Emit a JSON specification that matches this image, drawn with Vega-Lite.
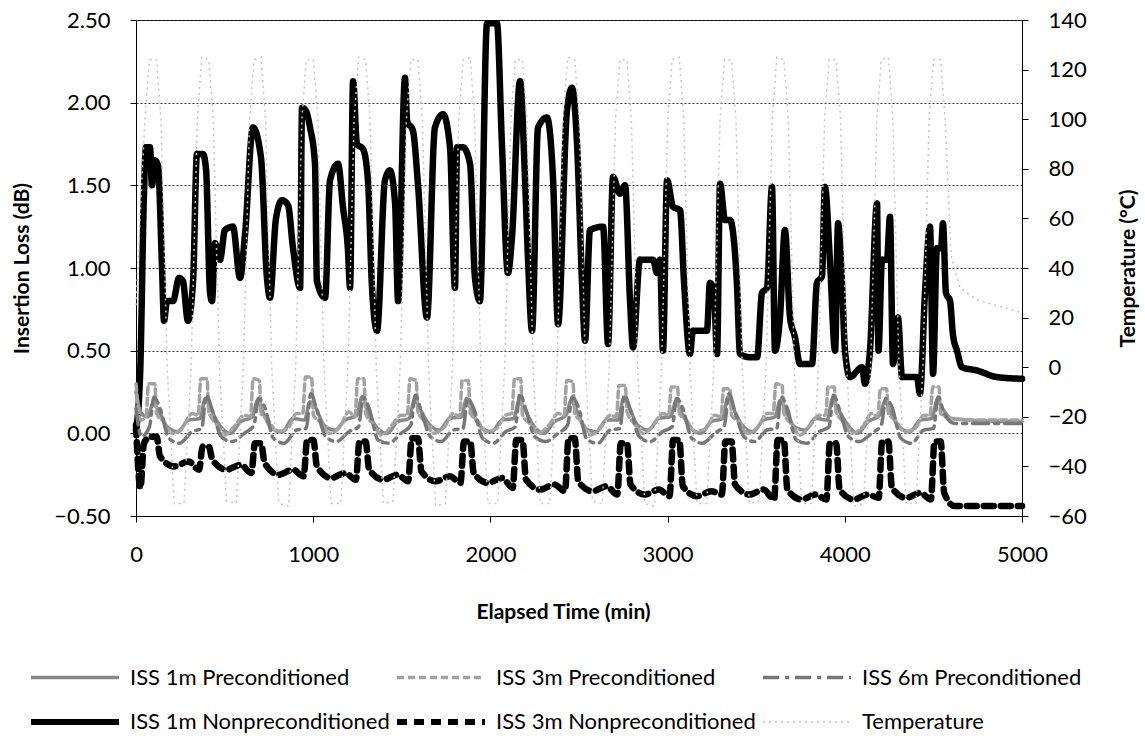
{
"$schema":"https://vega.github.io/schema/vega-lite/v6.json",
"width":886,"height":496,
"autosize":"none",
"padding":{"left":136,"top":20,"right":123,"bottom":228},
"background":"white",
"config":{"font":"Lato","view":{"stroke":"black","strokeWidth":1},
 "axis":{"domainColor":"black","tickColor":"black","labelColor":"black","titleColor":"black","labelFont":"Lato","titleFont":"Lato","labelFontSize":22,"titleFontSize":21,"titleFontWeight":"bold","tickSize":6,"labelOverlap":false,"labelFlush":false}},
"datasets":{"d":[
{"s":"N1","t":0,"v":0.02},{"s":"N1","t":23,"v":0.35},{"s":"N1","t":45,"v":1.45},{"s":"N1","t":56,"v":1.73},{"s":"N1","t":79,"v":1.73},{"s":"N1","t":90,"v":1.5},{"s":"N1","t":107,"v":1.65},{"s":"N1","t":124,"v":1.62},{"s":"N1","t":147,"v":1.0},{"s":"N1","t":158,"v":0.68},{"s":"N1","t":175,"v":0.8},{"s":"N1","t":209,"v":0.8},{"s":"N1","t":243,"v":0.94},{"s":"N1","t":265,"v":0.92},{"s":"N1","t":293,"v":0.68},{"s":"N1","t":322,"v":0.92},{"s":"N1","t":344,"v":1.69},{"s":"N1","t":378,"v":1.69},{"s":"N1","t":395,"v":1.6},{"s":"N1","t":418,"v":0.85},{"s":"N1","t":429,"v":0.8},{"s":"N1","t":446,"v":1.15},{"s":"N1","t":474,"v":1.05},{"s":"N1","t":502,"v":1.23},{"s":"N1","t":547,"v":1.25},{"s":"N1","t":587,"v":0.94},{"s":"N1","t":615,"v":1.2},{"s":"N1","t":660,"v":1.85},{"s":"N1","t":705,"v":1.67},{"s":"N1","t":739,"v":0.94},{"s":"N1","t":756,"v":0.82},{"s":"N1","t":790,"v":1.3},{"s":"N1","t":824,"v":1.41},{"s":"N1","t":858,"v":1.38},{"s":"N1","t":886,"v":1.12},{"s":"N1","t":926,"v":0.88},{"s":"N1","t":937,"v":1.97},{"s":"N1","t":959,"v":1.95},{"s":"N1","t":982,"v":1.85},{"s":"N1","t":1010,"v":1.63},{"s":"N1","t":1021,"v":0.92},{"s":"N1","t":1067,"v":0.82},{"s":"N1","t":1095,"v":1.53},{"s":"N1","t":1140,"v":1.63},{"s":"N1","t":1168,"v":1.37},{"s":"N1","t":1196,"v":1.11},{"s":"N1","t":1208,"v":0.88},{"s":"N1","t":1225,"v":2.13},{"s":"N1","t":1247,"v":1.75},{"s":"N1","t":1281,"v":1.72},{"s":"N1","t":1309,"v":1.53},{"s":"N1","t":1332,"v":0.88},{"s":"N1","t":1360,"v":0.62},{"s":"N1","t":1405,"v":1.53},{"s":"N1","t":1433,"v":1.59},{"s":"N1","t":1462,"v":1.39},{"s":"N1","t":1479,"v":0.8},{"s":"N1","t":1518,"v":2.15},{"s":"N1","t":1530,"v":1.89},{"s":"N1","t":1563,"v":1.83},{"s":"N1","t":1591,"v":1.51},{"s":"N1","t":1642,"v":0.7},{"s":"N1","t":1687,"v":1.85},{"s":"N1","t":1733,"v":1.93},{"s":"N1","t":1772,"v":1.73},{"s":"N1","t":1800,"v":0.88},{"s":"N1","t":1812,"v":1.73},{"s":"N1","t":1845,"v":1.73},{"s":"N1","t":1885,"v":1.63},{"s":"N1","t":1913,"v":0.94},{"s":"N1","t":1941,"v":0.8},{"s":"N1","t":1981,"v":2.48},{"s":"N1","t":2037,"v":2.48},{"s":"N1","t":2065,"v":1.75},{"s":"N1","t":2099,"v":0.97},{"s":"N1","t":2122,"v":1.19},{"s":"N1","t":2167,"v":2.13},{"s":"N1","t":2195,"v":1.55},{"s":"N1","t":2212,"v":1.06},{"s":"N1","t":2235,"v":0.62},{"s":"N1","t":2269,"v":1.85},{"s":"N1","t":2319,"v":1.91},{"s":"N1","t":2353,"v":1.55},{"s":"N1","t":2382,"v":0.66},{"s":"N1","t":2432,"v":1.95},{"s":"N1","t":2460,"v":2.09},{"s":"N1","t":2489,"v":1.75},{"s":"N1","t":2517,"v":0.91},{"s":"N1","t":2534,"v":0.56},{"s":"N1","t":2562,"v":1.23},{"s":"N1","t":2636,"v":1.25},{"s":"N1","t":2664,"v":0.54},{"s":"N1","t":2692,"v":1.55},{"s":"N1","t":2731,"v":1.45},{"s":"N1","t":2760,"v":1.5},{"s":"N1","t":2788,"v":0.8},{"s":"N1","t":2805,"v":0.52},{"s":"N1","t":2844,"v":1.05},{"s":"N1","t":2918,"v":1.05},{"s":"N1","t":2940,"v":0.97},{"s":"N1","t":2957,"v":1.05},{"s":"N1","t":2974,"v":0.5},{"s":"N1","t":2997,"v":1.53},{"s":"N1","t":3031,"v":1.37},{"s":"N1","t":3070,"v":1.35},{"s":"N1","t":3093,"v":0.91},{"s":"N1","t":3126,"v":0.48},{"s":"N1","t":3143,"v":0.62},{"s":"N1","t":3222,"v":0.62},{"s":"N1","t":3239,"v":0.91},{"s":"N1","t":3262,"v":0.85},{"s":"N1","t":3279,"v":0.48},{"s":"N1","t":3296,"v":1.51},{"s":"N1","t":3324,"v":1.29},{"s":"N1","t":3352,"v":1.29},{"s":"N1","t":3391,"v":0.91},{"s":"N1","t":3409,"v":0.48},{"s":"N1","t":3465,"v":0.46},{"s":"N1","t":3505,"v":0.46},{"s":"N1","t":3533,"v":0.85},{"s":"N1","t":3561,"v":0.88},{"s":"N1","t":3589,"v":1.49},{"s":"N1","t":3606,"v":0.5},{"s":"N1","t":3634,"v":0.7},{"s":"N1","t":3662,"v":1.23},{"s":"N1","t":3691,"v":0.7},{"s":"N1","t":3719,"v":0.58},{"s":"N1","t":3747,"v":0.42},{"s":"N1","t":3815,"v":0.42},{"s":"N1","t":3843,"v":0.91},{"s":"N1","t":3871,"v":0.95},{"s":"N1","t":3888,"v":1.49},{"s":"N1","t":3916,"v":1.05},{"s":"N1","t":3945,"v":0.5},{"s":"N1","t":3962,"v":1.27},{"s":"N1","t":3984,"v":0.91},{"s":"N1","t":4001,"v":0.5},{"s":"N1","t":4029,"v":0.34},{"s":"N1","t":4097,"v":0.4},{"s":"N1","t":4114,"v":0.3},{"s":"N1","t":4142,"v":0.5},{"s":"N1","t":4182,"v":1.39},{"s":"N1","t":4190,"v":0.5},{"s":"N1","t":4210,"v":1.05},{"s":"N1","t":4238,"v":1.05},{"s":"N1","t":4255,"v":1.31},{"s":"N1","t":4272,"v":0.42},{"s":"N1","t":4300,"v":0.7},{"s":"N1","t":4323,"v":0.34},{"s":"N1","t":4407,"v":0.34},{"s":"N1","t":4424,"v":0.24},{"s":"N1","t":4453,"v":0.86},{"s":"N1","t":4481,"v":1.25},{"s":"N1","t":4498,"v":0.36},{"s":"N1","t":4520,"v":1.12},{"s":"N1","t":4543,"v":1.12},{"s":"N1","t":4554,"v":1.27},{"s":"N1","t":4571,"v":0.85},{"s":"N1","t":4594,"v":0.8},{"s":"N1","t":4610,"v":0.6},{"s":"N1","t":4633,"v":0.5},{"s":"N1","t":4661,"v":0.4},{"s":"N1","t":4746,"v":0.38},{"s":"N1","t":4859,"v":0.34},{"s":"N1","t":5000,"v":0.33},
{"s":"N3","t":0,"v":0.05},{"s":"N3","t":25,"v":-0.33},{"s":"N3","t":45,"v":-0.06},{"s":"N3","t":81,"v":-0.02},{"s":"N3","t":116,"v":-0.02},{"s":"N3","t":136,"v":-0.14},{"s":"N3","t":216,"v":-0.2},{"s":"N3","t":296,"v":-0.17},{"s":"N3","t":356,"v":-0.22},
{"s":"N3","t":376,"v":-0.08},{"s":"N3","t":411,"v":-0.08},{"s":"N3","t":431,"v":-0.16},{"s":"N3","t":511,"v":-0.22},{"s":"N3","t":591,"v":-0.19},{"s":"N3","t":651,"v":-0.24},
{"s":"N3","t":671,"v":-0.06},{"s":"N3","t":706,"v":-0.06},{"s":"N3","t":726,"v":-0.18},{"s":"N3","t":806,"v":-0.25},{"s":"N3","t":886,"v":-0.22},{"s":"N3","t":946,"v":-0.26},
{"s":"N3","t":966,"v":-0.04},{"s":"N3","t":1001,"v":-0.04},{"s":"N3","t":1021,"v":-0.2},{"s":"N3","t":1101,"v":-0.27},{"s":"N3","t":1181,"v":-0.24},{"s":"N3","t":1241,"v":-0.28},
{"s":"N3","t":1261,"v":-0.05},{"s":"N3","t":1296,"v":-0.05},{"s":"N3","t":1316,"v":-0.22},{"s":"N3","t":1396,"v":-0.28},{"s":"N3","t":1476,"v":-0.25},{"s":"N3","t":1536,"v":-0.29},
{"s":"N3","t":1556,"v":-0.03},{"s":"N3","t":1591,"v":-0.03},{"s":"N3","t":1611,"v":-0.23},{"s":"N3","t":1691,"v":-0.29},{"s":"N3","t":1771,"v":-0.26},{"s":"N3","t":1831,"v":-0.3},
{"s":"N3","t":1851,"v":-0.05},{"s":"N3","t":1886,"v":-0.05},{"s":"N3","t":1906,"v":-0.24},{"s":"N3","t":1986,"v":-0.3},{"s":"N3","t":2066,"v":-0.27},{"s":"N3","t":2126,"v":-0.33},
{"s":"N3","t":2146,"v":-0.04},{"s":"N3","t":2181,"v":-0.04},{"s":"N3","t":2201,"v":-0.28},{"s":"N3","t":2281,"v":-0.34},{"s":"N3","t":2361,"v":-0.31},{"s":"N3","t":2421,"v":-0.35},
{"s":"N3","t":2441,"v":-0.03},{"s":"N3","t":2476,"v":-0.03},{"s":"N3","t":2496,"v":-0.29},{"s":"N3","t":2576,"v":-0.35},{"s":"N3","t":2656,"v":-0.32},{"s":"N3","t":2716,"v":-0.37},
{"s":"N3","t":2736,"v":-0.06},{"s":"N3","t":2771,"v":-0.06},{"s":"N3","t":2791,"v":-0.31},{"s":"N3","t":2871,"v":-0.37},{"s":"N3","t":2951,"v":-0.34},{"s":"N3","t":3011,"v":-0.38},
{"s":"N3","t":3031,"v":-0.04},{"s":"N3","t":3066,"v":-0.04},{"s":"N3","t":3086,"v":-0.32},{"s":"N3","t":3166,"v":-0.38},{"s":"N3","t":3246,"v":-0.35},{"s":"N3","t":3306,"v":-0.37},
{"s":"N3","t":3326,"v":-0.05},{"s":"N3","t":3361,"v":-0.05},{"s":"N3","t":3381,"v":-0.31},{"s":"N3","t":3461,"v":-0.37},{"s":"N3","t":3541,"v":-0.34},{"s":"N3","t":3601,"v":-0.4},
{"s":"N3","t":3621,"v":-0.04},{"s":"N3","t":3656,"v":-0.04},{"s":"N3","t":3676,"v":-0.34},{"s":"N3","t":3756,"v":-0.4},{"s":"N3","t":3836,"v":-0.37},{"s":"N3","t":3896,"v":-0.4},
{"s":"N3","t":3916,"v":-0.06},{"s":"N3","t":3951,"v":-0.06},{"s":"N3","t":3971,"v":-0.34},{"s":"N3","t":4051,"v":-0.4},{"s":"N3","t":4131,"v":-0.37},{"s":"N3","t":4191,"v":-0.39},
{"s":"N3","t":4211,"v":-0.05},{"s":"N3","t":4246,"v":-0.05},{"s":"N3","t":4266,"v":-0.33},{"s":"N3","t":4346,"v":-0.39},{"s":"N3","t":4426,"v":-0.36},{"s":"N3","t":4486,"v":-0.4},
{"s":"N3","t":4506,"v":-0.05},{"s":"N3","t":4541,"v":-0.05},{"s":"N3","t":4561,"v":-0.36},{"s":"N3","t":4620,"v":-0.44},{"s":"N3","t":4800,"v":-0.44},{"s":"N3","t":5000,"v":-0.44},
{"s":"P1","t":0,"v":0.25},{"s":"P1","t":30,"v":0.12},
{"s":"P1","t":66,"v":0.1},{"s":"P1","t":96,"v":0.18},{"s":"P1","t":126,"v":0.14},{"s":"P1","t":176,"v":0.04},{"s":"P1","t":236,"v":0.01},{"s":"P1","t":296,"v":0.08},
{"s":"P1","t":361,"v":0.09},{"s":"P1","t":391,"v":0.21},{"s":"P1","t":421,"v":0.15},{"s":"P1","t":471,"v":0.05},{"s":"P1","t":531,"v":0.0},{"s":"P1","t":591,"v":0.07},
{"s":"P1","t":656,"v":0.1},{"s":"P1","t":686,"v":0.2},{"s":"P1","t":716,"v":0.13},{"s":"P1","t":766,"v":0.03},{"s":"P1","t":826,"v":0.01},{"s":"P1","t":886,"v":0.09},
{"s":"P1","t":951,"v":0.08},{"s":"P1","t":981,"v":0.19},{"s":"P1","t":1011,"v":0.16},{"s":"P1","t":1061,"v":0.05},{"s":"P1","t":1121,"v":0.02},{"s":"P1","t":1181,"v":0.08},
{"s":"P1","t":1246,"v":0.11},{"s":"P1","t":1276,"v":0.22},{"s":"P1","t":1306,"v":0.14},{"s":"P1","t":1356,"v":0.04},{"s":"P1","t":1416,"v":0.0},{"s":"P1","t":1476,"v":0.07},
{"s":"P1","t":1541,"v":0.09},{"s":"P1","t":1571,"v":0.2},{"s":"P1","t":1601,"v":0.15},{"s":"P1","t":1651,"v":0.06},{"s":"P1","t":1711,"v":0.02},{"s":"P1","t":1771,"v":0.09},
{"s":"P1","t":1836,"v":0.1},{"s":"P1","t":1866,"v":0.21},{"s":"P1","t":1896,"v":0.13},{"s":"P1","t":1946,"v":0.04},{"s":"P1","t":2006,"v":0.01},{"s":"P1","t":2066,"v":0.08},
{"s":"P1","t":2131,"v":0.09},{"s":"P1","t":2161,"v":0.19},{"s":"P1","t":2191,"v":0.15},{"s":"P1","t":2241,"v":0.05},{"s":"P1","t":2301,"v":0.0},{"s":"P1","t":2361,"v":0.07},
{"s":"P1","t":2426,"v":0.11},{"s":"P1","t":2456,"v":0.2},{"s":"P1","t":2486,"v":0.14},{"s":"P1","t":2536,"v":0.03},{"s":"P1","t":2596,"v":0.01},{"s":"P1","t":2656,"v":0.08},
{"s":"P1","t":2721,"v":0.08},{"s":"P1","t":2751,"v":0.21},{"s":"P1","t":2781,"v":0.16},{"s":"P1","t":2831,"v":0.05},{"s":"P1","t":2891,"v":0.02},{"s":"P1","t":2951,"v":0.09},
{"s":"P1","t":3016,"v":0.1},{"s":"P1","t":3046,"v":0.19},{"s":"P1","t":3076,"v":0.13},{"s":"P1","t":3126,"v":0.04},{"s":"P1","t":3186,"v":0.0},{"s":"P1","t":3246,"v":0.07},
{"s":"P1","t":3311,"v":0.09},{"s":"P1","t":3341,"v":0.22},{"s":"P1","t":3371,"v":0.15},{"s":"P1","t":3421,"v":0.05},{"s":"P1","t":3481,"v":0.01},{"s":"P1","t":3541,"v":0.08},
{"s":"P1","t":3606,"v":0.1},{"s":"P1","t":3636,"v":0.2},{"s":"P1","t":3666,"v":0.14},{"s":"P1","t":3716,"v":0.04},{"s":"P1","t":3776,"v":0.02},{"s":"P1","t":3836,"v":0.09},
{"s":"P1","t":3901,"v":0.08},{"s":"P1","t":3931,"v":0.21},{"s":"P1","t":3961,"v":0.15},{"s":"P1","t":4011,"v":0.06},{"s":"P1","t":4071,"v":0.0},{"s":"P1","t":4131,"v":0.07},
{"s":"P1","t":4196,"v":0.11},{"s":"P1","t":4226,"v":0.19},{"s":"P1","t":4256,"v":0.13},{"s":"P1","t":4306,"v":0.04},{"s":"P1","t":4366,"v":0.01},{"s":"P1","t":4426,"v":0.08},
{"s":"P1","t":4491,"v":0.09},{"s":"P1","t":4521,"v":0.2},{"s":"P1","t":4551,"v":0.15},{"s":"P1","t":4601,"v":0.09},{"s":"P1","t":4700,"v":0.08},{"s":"P1","t":5000,"v":0.07},
{"s":"P3","t":0,"v":0.3},{"s":"P3","t":25,"v":0.08},
{"s":"P3","t":56,"v":0.1},{"s":"P3","t":71,"v":0.3},{"s":"P3","t":106,"v":0.3},{"s":"P3","t":116,"v":0.12},{"s":"P3","t":156,"v":0.07},{"s":"P3","t":206,"v":0.0},{"s":"P3","t":266,"v":0.04},{"s":"P3","t":316,"v":0.12},
{"s":"P3","t":351,"v":0.11},{"s":"P3","t":366,"v":0.33},{"s":"P3","t":401,"v":0.33},{"s":"P3","t":411,"v":0.13},{"s":"P3","t":451,"v":0.06},{"s":"P3","t":501,"v":-0.01},{"s":"P3","t":561,"v":0.05},{"s":"P3","t":611,"v":0.11},
{"s":"P3","t":646,"v":0.1},{"s":"P3","t":661,"v":0.33},{"s":"P3","t":696,"v":0.32},{"s":"P3","t":706,"v":0.12},{"s":"P3","t":746,"v":0.08},{"s":"P3","t":796,"v":0.01},{"s":"P3","t":856,"v":0.03},{"s":"P3","t":906,"v":0.12},
{"s":"P3","t":941,"v":0.12},{"s":"P3","t":956,"v":0.34},{"s":"P3","t":991,"v":0.34},{"s":"P3","t":1001,"v":0.11},{"s":"P3","t":1041,"v":0.07},{"s":"P3","t":1091,"v":0.0},{"s":"P3","t":1151,"v":0.04},{"s":"P3","t":1201,"v":0.13},
{"s":"P3","t":1236,"v":0.1},{"s":"P3","t":1251,"v":0.33},{"s":"P3","t":1286,"v":0.33},{"s":"P3","t":1296,"v":0.12},{"s":"P3","t":1336,"v":0.06},{"s":"P3","t":1386,"v":-0.01},{"s":"P3","t":1446,"v":0.05},{"s":"P3","t":1496,"v":0.11},
{"s":"P3","t":1531,"v":0.11},{"s":"P3","t":1546,"v":0.33},{"s":"P3","t":1581,"v":0.32},{"s":"P3","t":1591,"v":0.13},{"s":"P3","t":1631,"v":0.07},{"s":"P3","t":1681,"v":0.0},{"s":"P3","t":1741,"v":0.04},{"s":"P3","t":1791,"v":0.12},
{"s":"P3","t":1826,"v":0.1},{"s":"P3","t":1841,"v":0.32},{"s":"P3","t":1876,"v":0.32},{"s":"P3","t":1886,"v":0.12},{"s":"P3","t":1926,"v":0.08},{"s":"P3","t":1976,"v":0.01},{"s":"P3","t":2036,"v":0.03},{"s":"P3","t":2086,"v":0.11},
{"s":"P3","t":2121,"v":0.12},{"s":"P3","t":2136,"v":0.33},{"s":"P3","t":2171,"v":0.33},{"s":"P3","t":2181,"v":0.11},{"s":"P3","t":2221,"v":0.06},{"s":"P3","t":2271,"v":0.0},{"s":"P3","t":2331,"v":0.05},{"s":"P3","t":2381,"v":0.12},
{"s":"P3","t":2416,"v":0.11},{"s":"P3","t":2431,"v":0.32},{"s":"P3","t":2466,"v":0.31},{"s":"P3","t":2476,"v":0.12},{"s":"P3","t":2516,"v":0.07},{"s":"P3","t":2566,"v":-0.01},{"s":"P3","t":2626,"v":0.04},{"s":"P3","t":2676,"v":0.11},
{"s":"P3","t":2711,"v":0.1},{"s":"P3","t":2726,"v":0.29},{"s":"P3","t":2761,"v":0.29},{"s":"P3","t":2771,"v":0.13},{"s":"P3","t":2811,"v":0.06},{"s":"P3","t":2861,"v":0.0},{"s":"P3","t":2921,"v":0.05},{"s":"P3","t":2971,"v":0.12},
{"s":"P3","t":3006,"v":0.11},{"s":"P3","t":3021,"v":0.28},{"s":"P3","t":3056,"v":0.28},{"s":"P3","t":3066,"v":0.12},{"s":"P3","t":3106,"v":0.08},{"s":"P3","t":3156,"v":0.01},{"s":"P3","t":3216,"v":0.03},{"s":"P3","t":3266,"v":0.11},
{"s":"P3","t":3301,"v":0.1},{"s":"P3","t":3316,"v":0.27},{"s":"P3","t":3351,"v":0.27},{"s":"P3","t":3361,"v":0.11},{"s":"P3","t":3401,"v":0.07},{"s":"P3","t":3451,"v":0.0},{"s":"P3","t":3511,"v":0.04},{"s":"P3","t":3561,"v":0.12},
{"s":"P3","t":3596,"v":0.12},{"s":"P3","t":3611,"v":0.3},{"s":"P3","t":3646,"v":0.29},{"s":"P3","t":3656,"v":0.12},{"s":"P3","t":3696,"v":0.06},{"s":"P3","t":3746,"v":-0.01},{"s":"P3","t":3806,"v":0.05},{"s":"P3","t":3856,"v":0.11},
{"s":"P3","t":3891,"v":0.11},{"s":"P3","t":3906,"v":0.28},{"s":"P3","t":3941,"v":0.28},{"s":"P3","t":3951,"v":0.13},{"s":"P3","t":3991,"v":0.07},{"s":"P3","t":4041,"v":0.0},{"s":"P3","t":4101,"v":0.04},{"s":"P3","t":4151,"v":0.12},
{"s":"P3","t":4186,"v":0.1},{"s":"P3","t":4201,"v":0.27},{"s":"P3","t":4236,"v":0.27},{"s":"P3","t":4246,"v":0.12},{"s":"P3","t":4286,"v":0.08},{"s":"P3","t":4336,"v":0.01},{"s":"P3","t":4396,"v":0.03},{"s":"P3","t":4446,"v":0.11},
{"s":"P3","t":4481,"v":0.11},{"s":"P3","t":4496,"v":0.28},{"s":"P3","t":4531,"v":0.28},{"s":"P3","t":4541,"v":0.12},{"s":"P3","t":4600,"v":0.09},{"s":"P3","t":4800,"v":0.08},{"s":"P3","t":5000,"v":0.08},
{"s":"P6","t":0,"v":0.15},{"s":"P6","t":30,"v":-0.02},
{"s":"P6","t":76,"v":0.04},{"s":"P6","t":101,"v":0.22},{"s":"P6","t":136,"v":0.15},{"s":"P6","t":186,"v":-0.03},{"s":"P6","t":246,"v":-0.06},{"s":"P6","t":316,"v":0.01},
{"s":"P6","t":371,"v":0.03},{"s":"P6","t":396,"v":0.23},{"s":"P6","t":431,"v":0.14},{"s":"P6","t":481,"v":-0.02},{"s":"P6","t":541,"v":-0.05},{"s":"P6","t":611,"v":0.0},
{"s":"P6","t":666,"v":0.05},{"s":"P6","t":691,"v":0.21},{"s":"P6","t":726,"v":0.16},{"s":"P6","t":776,"v":-0.03},{"s":"P6","t":836,"v":-0.06},{"s":"P6","t":906,"v":0.02},
{"s":"P6","t":961,"v":0.03},{"s":"P6","t":986,"v":0.24},{"s":"P6","t":1021,"v":0.14},{"s":"P6","t":1071,"v":-0.02},{"s":"P6","t":1131,"v":-0.05},{"s":"P6","t":1201,"v":0.01},
{"s":"P6","t":1256,"v":0.04},{"s":"P6","t":1281,"v":0.22},{"s":"P6","t":1316,"v":0.15},{"s":"P6","t":1366,"v":-0.04},{"s":"P6","t":1426,"v":-0.06},{"s":"P6","t":1496,"v":0.0},
{"s":"P6","t":1551,"v":0.05},{"s":"P6","t":1576,"v":0.23},{"s":"P6","t":1611,"v":0.13},{"s":"P6","t":1661,"v":-0.02},{"s":"P6","t":1721,"v":-0.05},{"s":"P6","t":1791,"v":0.02},
{"s":"P6","t":1846,"v":0.03},{"s":"P6","t":1871,"v":0.21},{"s":"P6","t":1906,"v":0.15},{"s":"P6","t":1956,"v":-0.03},{"s":"P6","t":2016,"v":-0.06},{"s":"P6","t":2086,"v":0.01},
{"s":"P6","t":2141,"v":0.04},{"s":"P6","t":2166,"v":0.24},{"s":"P6","t":2201,"v":0.14},{"s":"P6","t":2251,"v":-0.02},{"s":"P6","t":2311,"v":-0.05},{"s":"P6","t":2381,"v":0.0},
{"s":"P6","t":2436,"v":0.05},{"s":"P6","t":2461,"v":0.22},{"s":"P6","t":2496,"v":0.16},{"s":"P6","t":2546,"v":-0.04},{"s":"P6","t":2606,"v":-0.06},{"s":"P6","t":2676,"v":0.02},
{"s":"P6","t":2731,"v":0.03},{"s":"P6","t":2756,"v":0.23},{"s":"P6","t":2791,"v":0.14},{"s":"P6","t":2841,"v":-0.02},{"s":"P6","t":2901,"v":-0.05},{"s":"P6","t":2971,"v":0.01},
{"s":"P6","t":3026,"v":0.04},{"s":"P6","t":3051,"v":0.21},{"s":"P6","t":3086,"v":0.15},{"s":"P6","t":3136,"v":-0.03},{"s":"P6","t":3196,"v":-0.06},{"s":"P6","t":3266,"v":0.0},
{"s":"P6","t":3321,"v":0.05},{"s":"P6","t":3346,"v":0.24},{"s":"P6","t":3381,"v":0.13},{"s":"P6","t":3431,"v":-0.02},{"s":"P6","t":3491,"v":-0.05},{"s":"P6","t":3561,"v":0.02},
{"s":"P6","t":3616,"v":0.03},{"s":"P6","t":3641,"v":0.22},{"s":"P6","t":3676,"v":0.15},{"s":"P6","t":3726,"v":-0.04},{"s":"P6","t":3786,"v":-0.06},{"s":"P6","t":3856,"v":0.01},
{"s":"P6","t":3911,"v":0.04},{"s":"P6","t":3936,"v":0.23},{"s":"P6","t":3971,"v":0.14},{"s":"P6","t":4021,"v":-0.02},{"s":"P6","t":4081,"v":-0.05},{"s":"P6","t":4151,"v":0.0},
{"s":"P6","t":4206,"v":0.05},{"s":"P6","t":4231,"v":0.21},{"s":"P6","t":4266,"v":0.16},{"s":"P6","t":4316,"v":-0.03},{"s":"P6","t":4376,"v":-0.06},{"s":"P6","t":4446,"v":0.02},
{"s":"P6","t":4501,"v":0.03},{"s":"P6","t":4526,"v":0.22},{"s":"P6","t":4561,"v":0.12},{"s":"P6","t":4620,"v":0.06},{"s":"P6","t":5000,"v":0.06},
{"s":"T","t":0,"v":25},{"s":"T","t":50,"v":100},
{"s":"T","t":76,"v":124},{"s":"T","t":116,"v":124},{"s":"T","t":141,"v":100},{"s":"T","t":176,"v":0},{"s":"T","t":216,"v":-55},{"s":"T","t":271,"v":-55},{"s":"T","t":311,"v":0},{"s":"T","t":346,"v":100},
{"s":"T","t":371,"v":125},{"s":"T","t":411,"v":124},{"s":"T","t":436,"v":100},{"s":"T","t":471,"v":0},{"s":"T","t":511,"v":-54},{"s":"T","t":566,"v":-55},{"s":"T","t":606,"v":0},{"s":"T","t":641,"v":100},
{"s":"T","t":666,"v":124},{"s":"T","t":706,"v":125},{"s":"T","t":731,"v":100},{"s":"T","t":766,"v":0},{"s":"T","t":806,"v":-55},{"s":"T","t":861,"v":-56},{"s":"T","t":901,"v":0},{"s":"T","t":936,"v":100},
{"s":"T","t":961,"v":124},{"s":"T","t":1001,"v":124},{"s":"T","t":1026,"v":101},{"s":"T","t":1061,"v":0},{"s":"T","t":1101,"v":-55},{"s":"T","t":1156,"v":-55},{"s":"T","t":1196,"v":0},{"s":"T","t":1231,"v":100},
{"s":"T","t":1256,"v":125},{"s":"T","t":1296,"v":124},{"s":"T","t":1321,"v":100},{"s":"T","t":1356,"v":-1},{"s":"T","t":1396,"v":-55},{"s":"T","t":1451,"v":-54},{"s":"T","t":1491,"v":0},{"s":"T","t":1526,"v":100},
{"s":"T","t":1551,"v":124},{"s":"T","t":1591,"v":124},{"s":"T","t":1616,"v":100},{"s":"T","t":1651,"v":0},{"s":"T","t":1691,"v":-56},{"s":"T","t":1746,"v":-55},{"s":"T","t":1786,"v":0},{"s":"T","t":1821,"v":99},
{"s":"T","t":1846,"v":124},{"s":"T","t":1886,"v":125},{"s":"T","t":1911,"v":100},{"s":"T","t":1946,"v":0},{"s":"T","t":1986,"v":-55},{"s":"T","t":2041,"v":-55},{"s":"T","t":2081,"v":1},{"s":"T","t":2116,"v":100},
{"s":"T","t":2141,"v":124},{"s":"T","t":2181,"v":124},{"s":"T","t":2206,"v":100},{"s":"T","t":2241,"v":0},{"s":"T","t":2281,"v":-55},{"s":"T","t":2336,"v":-55},{"s":"T","t":2376,"v":0},{"s":"T","t":2411,"v":100},
{"s":"T","t":2436,"v":125},{"s":"T","t":2476,"v":124},{"s":"T","t":2501,"v":100},{"s":"T","t":2536,"v":0},{"s":"T","t":2576,"v":-54},{"s":"T","t":2631,"v":-55},{"s":"T","t":2671,"v":0},{"s":"T","t":2706,"v":100},
{"s":"T","t":2731,"v":124},{"s":"T","t":2771,"v":124},{"s":"T","t":2796,"v":99},{"s":"T","t":2831,"v":0},{"s":"T","t":2871,"v":-55},{"s":"T","t":2926,"v":-56},{"s":"T","t":2966,"v":0},{"s":"T","t":3001,"v":100},
{"s":"T","t":3026,"v":124},{"s":"T","t":3066,"v":125},{"s":"T","t":3091,"v":100},{"s":"T","t":3126,"v":0},{"s":"T","t":3166,"v":-55},{"s":"T","t":3221,"v":-55},{"s":"T","t":3261,"v":0},{"s":"T","t":3296,"v":100},
{"s":"T","t":3321,"v":124},{"s":"T","t":3361,"v":124},{"s":"T","t":3386,"v":100},{"s":"T","t":3421,"v":0},{"s":"T","t":3461,"v":-55},{"s":"T","t":3516,"v":-54},{"s":"T","t":3556,"v":0},{"s":"T","t":3591,"v":100},
{"s":"T","t":3616,"v":125},{"s":"T","t":3656,"v":124},{"s":"T","t":3681,"v":100},{"s":"T","t":3716,"v":-1},{"s":"T","t":3756,"v":-55},{"s":"T","t":3811,"v":-55},{"s":"T","t":3851,"v":0},{"s":"T","t":3886,"v":100},
{"s":"T","t":3911,"v":124},{"s":"T","t":3951,"v":124},{"s":"T","t":3976,"v":100},{"s":"T","t":4011,"v":0},{"s":"T","t":4051,"v":-56},{"s":"T","t":4106,"v":-55},{"s":"T","t":4146,"v":0},{"s":"T","t":4181,"v":100},
{"s":"T","t":4206,"v":124},{"s":"T","t":4246,"v":125},{"s":"T","t":4271,"v":100},{"s":"T","t":4306,"v":0},{"s":"T","t":4346,"v":-55},{"s":"T","t":4401,"v":-55},{"s":"T","t":4441,"v":0},{"s":"T","t":4476,"v":101},
{"s":"T","t":4501,"v":124},{"s":"T","t":4541,"v":124},{"s":"T","t":4566,"v":100},{"s":"T","t":4600,"v":45},{"s":"T","t":4650,"v":32},{"s":"T","t":4750,"v":27},{"s":"T","t":4900,"v":24},{"s":"T","t":5000,"v":22}
]},
"data":{"name":"d"},
"layer":[
{"transform":[{"filter":"datum.s != 'T'"}],
 "mark":{"type":"line","interpolate":"monotone","strokeJoin":"round","strokeCap":"round"},
 "encoding":{
  "x":{"field":"t","type":"quantitative","scale":{"domain":[0,5000],"nice":false},
   "axis":{"title":"Elapsed Time (min)","values":[0,1000,2000,3000,4000,5000],"format":"d","grid":false,"labelPadding":22,"titleX":427,"titleY":96,"titleBaseline":"middle"}},
  "y":{"field":"v","type":"quantitative","scale":{"domain":[-0.5,2.5],"nice":false,"zero":false},
   "axis":{"orient":"left","title":"Insertion Loss (dB)","values":[-0.5,0,0.5,1,1.5,2,2.5],"format":".2f","grid":true,"gridColor":"#333333","gridDash":[2,2],"gridWidth":1,"labelPadding":20,"titleX":-114,"titleY":248,"titleAngle":270,"titleAlign":"center","titleBaseline":"middle"}},
  "color":{"field":"s","type":"nominal",
   "scale":{"domain":["P1","P3","P6","N1","N3","T"],"range":["#888888","#a3a3a3","#777777","#000000","#000000","#c4c4c4"]},
   "legend":{"title":null,"orient":"none","legendX":-91,"legendY":646,"direction":"horizontal","columns":3,"gridAlign":"all","columnPadding":-5,"rowPadding":21,
     "symbolType":"M-2,0L2,0","symbolSize":1936,"symbolOffset":19,"labelOffset":44,"labelFont":"Lato","labelFontSize":22,"labelColor":"black","labelLimit":400,
     "labelExpr":"datum.label == 'P1' ? 'ISS 1m Preconditioned' : datum.label == 'P3' ? 'ISS 3m Preconditioned' : datum.label == 'P6' ? 'ISS 6m Preconditioned' : datum.label == 'N1' ? 'ISS 1m Nonpreconditioned' : datum.label == 'N3' ? 'ISS 3m Nonpreconditioned' : 'Temperature'",
     "encode":{"symbols":{"update":{"strokeWidth":{"signal":"datum.value == 'N1' || datum.value == 'N3' ? 6 : datum.value == 'T' ? 1.5 : 3.5"}}}}}},
  "strokeDash":{"field":"s","type":"nominal",
   "scale":{"domain":["P1","P3","P6","N1","N3","T"],"range":[[1,0],[7,4],[16,6,4,6],[1,0],[10,7],[2,4]]}},
  "strokeWidth":{"condition":{"test":"datum.s == 'N1' || datum.s == 'N3'","value":6.5},"value":3.5}
 }},
{"transform":[{"filter":"datum.s == 'T'"}],
 "mark":{"type":"line","strokeWidth":1.5},
 "encoding":{
  "x":{"field":"t","type":"quantitative","scale":{"domain":[0,5000],"nice":false},
   "axis":{"title":"Elapsed Time (min)","values":[0,1000,2000,3000,4000,5000],"format":"d","grid":false,"labelPadding":22,"titleX":427,"titleY":96,"titleBaseline":"middle"}},
  "y":{"field":"v","type":"quantitative","scale":{"domain":[-60,140],"nice":false,"zero":false},
   "axis":{"orient":"right","title":"Temperature (°C)","values":[-60,-40,-20,0,20,40,60,80,100,120,140],"grid":false,"labelPadding":20,"titleX":106,"titleY":248,"titleAngle":270,"titleAlign":"center","titleBaseline":"middle"}},
  "color":{"field":"s","type":"nominal"},
  "strokeDash":{"field":"s","type":"nominal"}
 }}
],
"resolve":{"scale":{"y":"independent"}}
}
